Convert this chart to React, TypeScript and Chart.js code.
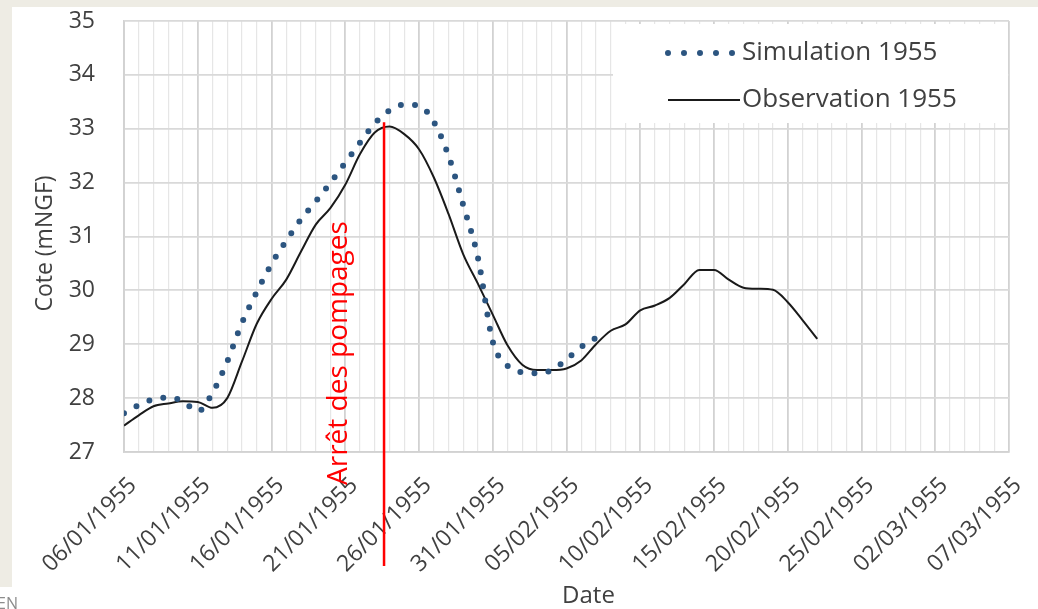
import React, { useEffect, useRef } from 'react';
import { Chart, registerables } from 'chart.js';

Chart.register(...registerables);

// ---- Data -------------------------------------------------------------
// x = days since 06/01/1955 (index of the value)
const TICK_LABELS = [
  '06/01/1955', '11/01/1955', '16/01/1955', '21/01/1955', '26/01/1955',
  '31/01/1955', '05/02/1955', '10/02/1955', '15/02/1955', '20/02/1955',
  '25/02/1955', '02/03/1955', '07/03/1955',
];
const DAY_MIN = 0;
const DAY_MAX = 60;
const Y_MIN = 27;
const Y_MAX = 35;

const SIM_LABEL = 'Simulation 1955';
const OBS_LABEL = 'Observation 1955';

const SIM_VALUES = [
  27.72, 27.87, 27.98, 28.01, 27.94, 27.75, 28.1, 28.68, 29.4, 29.97,
  30.49, 30.92, 31.32, 31.65, 32.0, 32.37, 32.74, 33.1, 33.34, 33.45,
  33.43, 33.13, 32.5, 31.58, 30.6, 29.05, 28.6, 28.48, 28.46, 28.52,
  28.72, 28.95, 29.12,
];

const OBS_VALUES = [
  27.49, 27.68, 27.85, 27.9, 27.94, 27.93, 27.82, 28.0, 28.68, 29.38,
  29.84, 30.2, 30.72, 31.22, 31.53, 31.96, 32.53, 32.93, 33.04, 32.9,
  32.62, 32.1, 31.42, 30.67, 30.12, 29.55, 28.98, 28.62, 28.52, 28.52,
  28.55, 28.7, 29.0, 29.25, 29.37, 29.63, 29.72, 29.86, 30.12, 30.38,
  30.38, 30.2, 30.05, 30.03, 30.01, 29.78, 29.45, 29.1,
];

const ARRET_DAY = 17.63;
const ARRET_TOP = 33.12;
const ARRET_TEXT = 'Arrêt des pompages';
const X_TITLE = 'Date';
const Y_TITLE = 'Cote (mNGF)';

// ---- Styles -----------------------------------------------------------
const FONT = '"Open Sans", sans-serif';
const TEXT_COLOR = '#404040';
const SIM_COLOR = '#2c5580';
const OBS_COLOR = '#1a1a1a';
const RED = '#ff0000';

const overlayPlugin = {
  id: 'overlay',
  afterDatasetsDraw(chart: any) {
    const { ctx, chartArea: ca, scales } = chart;
    const x = scales.x;
    const y = scales.y;
    ctx.save();

    // Legend box (inside plot, top-right)
    const bx = ca.left + 489;
    const by = ca.top + 3;
    ctx.fillStyle = '#ffffff';
    ctx.fillRect(bx, by, ca.right - 1 - bx, 99);

    const ds0 = chart.data.datasets[0];
    const ds1 = chart.data.datasets[1];
    const r1 = ca.top + 32;
    const r2 = ca.top + 79;
    // sim sample
    ctx.strokeStyle = ds0.borderColor;
    ctx.lineWidth = ds0.borderWidth;
    ctx.lineCap = 'round';
    ctx.setLineDash([0, 16]);
    ctx.beginPath();
    ctx.moveTo(ca.left + 544, r1);
    ctx.lineTo(ca.left + 610, r1);
    ctx.stroke();
    ctx.setLineDash([]);
    ctx.lineCap = 'butt';
    // obs sample
    ctx.strokeStyle = ds1.borderColor;
    ctx.lineWidth = ds1.borderWidth;
    ctx.beginPath();
    ctx.moveTo(ca.left + 544, r2);
    ctx.lineTo(ca.left + 616, r2);
    ctx.stroke();
    ctx.fillStyle = TEXT_COLOR;
    ctx.font = `26px ${FONT}`;
    ctx.textAlign = 'left';
    ctx.textBaseline = 'middle';
    ctx.fillText(ds0.label, ca.left + 618, r1);
    ctx.fillText(ds1.label, ca.left + 618, r2);

    // X title
    ctx.textAlign = 'center';
    ctx.font = `24px ${FONT}`;
    ctx.fillText(X_TITLE, (ca.left + ca.right) / 2 + 22, chart.height - 13);

    // Y title
    ctx.save();
    ctx.translate(33, (ca.top + ca.bottom) / 2 + 7);
    ctx.rotate(-Math.PI / 2);
    ctx.font = `23px ${FONT}`;
    ctx.fillText(Y_TITLE, 0, 0);
    ctx.restore();

    // Red marker line
    const px = x.getPixelForValue(ARRET_DAY);
    ctx.strokeStyle = RED;
    ctx.lineWidth = 2.5;
    ctx.beginPath();
    ctx.moveTo(px, y.getPixelForValue(ARRET_TOP));
    ctx.lineTo(px, ca.bottom + 114);
    ctx.stroke();

    // Red rotated text
    ctx.translate(px - 37, ca.bottom + 33);
    ctx.rotate(-Math.PI / 2);
    ctx.font = `28px ${FONT}`;
    ctx.fillStyle = RED;
    ctx.textAlign = 'left';
    ctx.textBaseline = 'alphabetic';
    ctx.fillText(ARRET_TEXT, 0, 0);
    ctx.restore();
  },
};

export default function App() {
  const ref = useRef<HTMLCanvasElement>(null);

  useEffect(() => {
    if (!ref.current) return;
    const chart = new Chart(ref.current, {
      type: 'line',
      data: {
        datasets: [
          {
            label: SIM_LABEL,
            data: SIM_VALUES.map((v, i) => ({ x: i, y: v })),
            borderColor: SIM_COLOR,
            borderWidth: 6,
            borderDash: [0, 14.2],
            borderCapStyle: 'round',
            pointRadius: 0,
            fill: false,
            cubicInterpolationMode: 'monotone',
          },
          {
            label: OBS_LABEL,
            data: OBS_VALUES.map((v, i) => ({ x: i, y: v })),
            borderColor: OBS_COLOR,
            borderWidth: 2,
            pointRadius: 0,
            fill: false,
            cubicInterpolationMode: 'monotone',
          },
        ],
      },
      options: {
        animation: false,
        responsive: false,
        layout: { padding: { top: 14, right: 29, left: 0, bottom: 0 } },
        plugins: {
          legend: { display: false },
          tooltip: { enabled: false },
        },
        scales: {
          x: {
            type: 'linear',
            min: DAY_MIN,
            max: DAY_MAX,
            afterBuildTicks: (s: any) => {
              const t = [];
              for (let i = DAY_MIN; i <= DAY_MAX; i++) t.push({ value: i });
              s.ticks = t;
            },
            afterFit: (s: any) => {
              s.height = 157;
              s.paddingLeft = 0;
              s.paddingRight = 0;
              s.paddingTop = 0;
              s.paddingBottom = 0;
            },
            ticks: {
              autoSkip: false,
              minRotation: 45,
              maxRotation: 45,
              padding: 20,
              labelOffset: 9,
              color: TEXT_COLOR,
              font: { family: FONT, size: 23 },
              callback: (v: any) => (v % 5 === 0 ? TICK_LABELS[v / 5] : ''),
            },
            grid: {
              drawTicks: false,
              color: (c: any) => (c.tick && c.tick.value % 5 === 0 ? '#d2d2d2' : '#e6e6e6'),
              lineWidth: (c: any) => (c.tick && c.tick.value % 5 === 0 ? 1.8 : 1.2),
            },
            border: { color: '#d2d2d2', width: 1.8 },
          },
          y: {
            min: Y_MIN,
            max: Y_MAX,
            afterFit: (s: any) => {
              s.width = 112;
              s.paddingLeft = 0;
              s.paddingRight = 0;
              s.paddingTop = 0;
              s.paddingBottom = 0;
            },
            ticks: {
              stepSize: 1,
              padding: 29,
              color: TEXT_COLOR,
              font: { family: FONT, size: 23 },
            },
            grid: { drawTicks: false, color: '#d9d9d9', lineWidth: 1.8 },
            border: { color: '#d2d2d2', width: 1.8 },
          },
        },
      },
      plugins: [overlayPlugin],
    } as any);
    return () => chart.destroy();
  }, []);

  return (
    <div
      style={{
        position: 'absolute', left: 0, top: 0, width: 1038, height: 609,
        background: '#eeece4', overflow: 'hidden',
      }}
    >
      <div style={{ position: 'absolute', left: 0, top: 587, width: 12, height: 22, background: '#fff' }} />
      <div style={{ position: 'absolute', left: 12, top: 7, width: 1026, height: 602, background: '#fff' }}>
        <canvas ref={ref} width={1026} height={602} style={{ display: 'block', width: 1026, height: 602 }} />
      </div>
      <div
        style={{
          position: 'absolute', left: -3, top: 595, fontFamily: FONT, fontSize: 16,
          color: '#8c8c8c', lineHeight: '16px',
        }}
      >
        EN
      </div>
    </div>
  );
}
